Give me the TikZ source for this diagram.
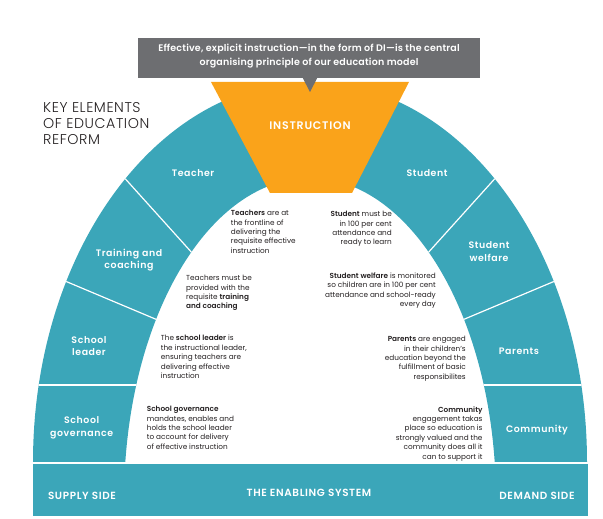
\documentclass[tikz,border=0pt]{standalone}
\usepackage{fontspec}
\IfFontExistsTF{Poppins SemiBold}{\setmainfont{Poppins}[BoldFont={Poppins SemiBold}]}{\setmainfont{Poppins}}
\IfFontExistsTF{Poppins Light}{\newfontfamily\lightfont{Poppins Light}}{\newfontfamily\lightfont{Poppins}}
\definecolor{segteal}{RGB}{59,166,185}
\definecolor{instrorange}{RGB}{250,163,26}
\definecolor{calloutgray}{RGB}{109,110,113}
\definecolor{textdark}{RGB}{35,31,32}
\begin{document}
\begin{tikzpicture}[x=1pt,y=1pt,
  seglabel/.style={text=white,inner sep=0,align=center,
    font=\bfseries\fontsize{9.4}{12.3}\selectfont\addfontfeature{LetterSpace=6}},
  bodyl/.style={text=textdark,inner sep=0,align=left,anchor=north west,
    font=\fontsize{7.3}{9.4}\selectfont},
  bodyr/.style={text=textdark,inner sep=0,align=right,anchor=north east,
    font=\fontsize{7.3}{9.4}\selectfont},
  barlabel/.style={text=white,inner sep=0,
    font=\bfseries\fontsize{10.4}{12}\selectfont\addfontfeature{LetterSpace=6}},
  divider/.style={draw=white,line width=1.2pt}]
\useasboundingbox (0,0) rectangle (603,519);
% arch
\def\archpath{(33,57) arc[start angle=180,end angle=0,x radius=277,y radius=380] -- (494.7,57) arc[start angle=6.78,end angle=173.22,x radius=186,y radius=322] -- cycle}
\fill[segteal] \archpath;
\begin{scope}
  \clip \archpath;
  \coordinate (l1a) at (20,134);    \coordinate (l1b) at (150,134);
  \coordinate (l2a) at (50,244.3);  \coordinate (l2b) at (170,193.8);
  \coordinate (l3a) at (115,351.6); \coordinate (l3b) at (200,257.3);
  \coordinate (r1a) at (600,134);   \coordinate (r1b) at (470,134);
  \coordinate (r2a) at (570,244.3); \coordinate (r2b) at (450,193.8);
  \coordinate (r3a) at (505,351.6); \coordinate (r3b) at (420,257.3);
  \draw[divider] (l1a) -- (l1b);
  \draw[divider] (l2a) -- (l2b);
  \draw[divider] (l3a) -- (l3b);
  \draw[divider] (r1a) -- (r1b);
  \draw[divider] (r2a) -- (r2b);
  \draw[divider] (r3a) -- (r3b);
\end{scope}
% instruction trapezoid
\fill[instrorange] (211,437) -- (409,437) -- (352,326) -- (270,326) -- cycle;
\node[seglabel,font=\bfseries\fontsize{11}{12}\selectfont\addfontfeature{LetterSpace=7}] (instr) at (310,393) {INSTRUCTION};
% callout
\fill[calloutgray] (138,441) rectangle (480,481);
\fill[calloutgray] (302.5,441.5) -- (317.5,441.5) -- (310,427) -- cycle;
\node[text=white,inner sep=0,align=center,font=\bfseries\fontsize{9.5}{14.3}\selectfont\addfontfeature{LetterSpace=2}] (callout) at (309,462.8)
  {Effective, explicit instruction—in the form of DI—is the central\\organising principle of our education model};
% title
\node[text=textdark,inner sep=0,align=left,anchor=north west,font=\lightfont\fontsize{14.2}{16}\selectfont\addfontfeature{LetterSpace=4}] (title) at (43,416.5)
  {KEY ELEMENTS\\OF EDUCATION\\REFORM};
% segment labels
\node[seglabel] (teacher) at (193,346) {Teacher};
\node[seglabel] (student) at (427,346) {Student};
\node[seglabel] (training) at (129,259) {Training and\\coaching};
\node[seglabel] (leader) at (89,173) {School\\leader};
\node[seglabel] (governance) at (81.7,91.3) {School\\governance};
\node[seglabel] (welfare) at (489,267.3) {Student\\welfare};
\node[seglabel] (parents) at (519,168) {Parents};
\node[seglabel] (community) at (537,89) {Community};
% body texts
\node[bodyl] (t1) at (230.7,308.8) {\textbf{Teachers} are at\\the frontline of\\delivering the\\requisite effective\\instruction};
\node[bodyl] (t2) at (186,243.8) {Teachers must be\\provided with the\\requisite \textbf{training}\\\textbf{and coaching}};
\node[bodyl] (t3) at (160.7,183.8) {The \textbf{school leader} is\\the instructional leader,\\ensuring teachers are\\delivering effective\\instruction};
\node[bodyl] (t4) at (146.7,112.8) {\textbf{School governance}\\mandates, enables and\\holds the school leader\\to account for delivery\\of effective instruction};
\node[bodyr] (s1) at (392,307.8) {\textbf{Student} must be\\in 100 per cent\\attendance and\\ready to learn};
\node[bodyr] (s2) at (436,246.3) {\textbf{Student welfare} is monitored\\so children are in 100 per cent\\attendance and school-ready\\every day};
\node[bodyr] (s3) at (466,182.8) {\textbf{Parents} are engaged\\in their children's\\education beyond the\\fulfillment of basic\\responsibilites};
\node[bodyr] (s4) at (482.7,112.8) {\textbf{Community}\\engagement takas\\place so education is\\strongly valued and the\\community does all it\\can to support it};
% bottom bar
\fill[segteal] (33,3) rectangle (588,55);
\node[barlabel] (supply) at (82,23) {SUPPLY SIDE};
\node[barlabel] (enabling) at (309,26) {THE ENABLING SYSTEM};
\node[barlabel] (demand) at (537,23) {DEMAND SIDE};
\end{tikzpicture}
\end{document}
